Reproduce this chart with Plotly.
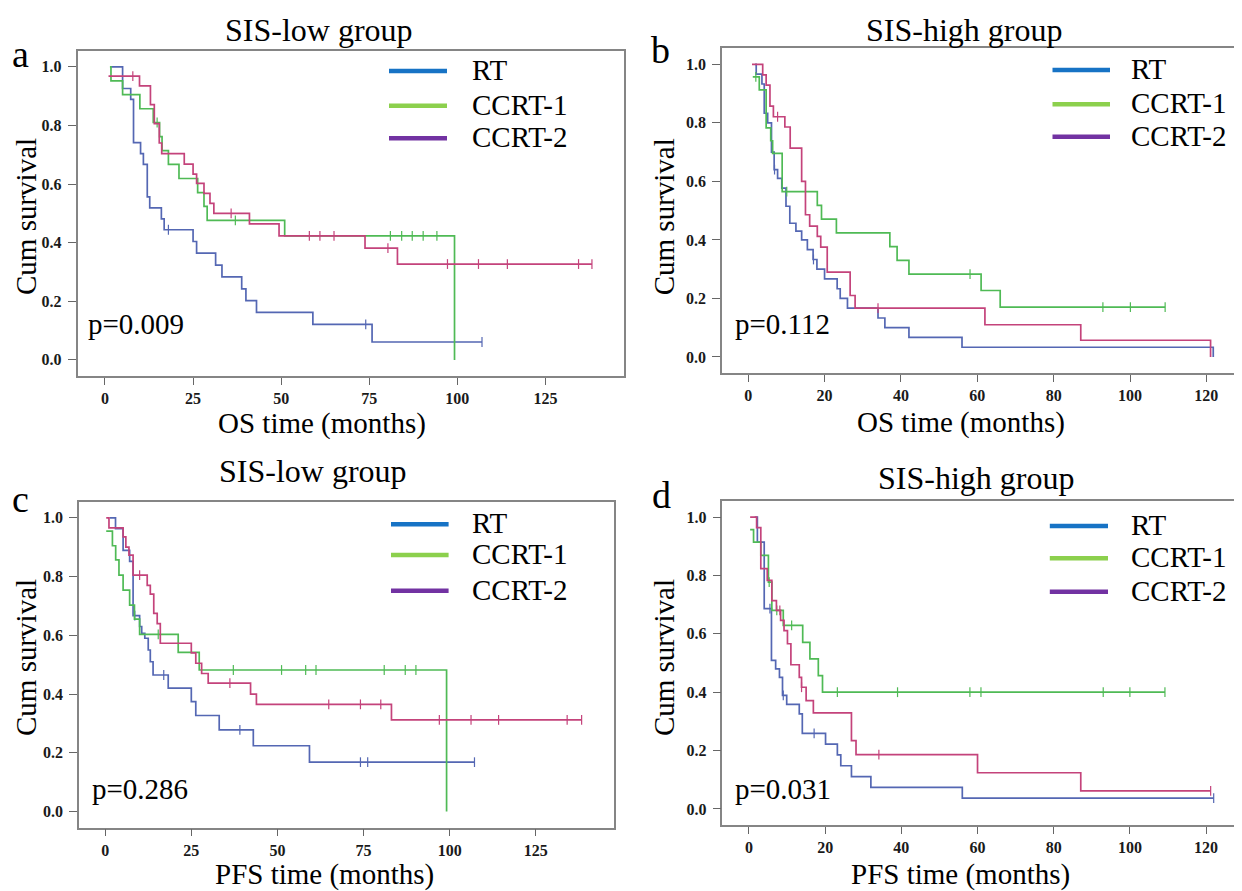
import numpy as np
import plotly.graph_objects as go

# ---------------- data (time in months, survival after each step) ----------------
# Panel a: OS, SIS-low
A_RT_T = [1.5, 5.0, 7.3, 8.1, 10.1, 10.9, 12.0, 12.7, 16.0, 16.8, 25.0, 26.0, 31.4, 33.2, 38.8, 40.0, 43.0, 59.0, 75.8, 107.0]
A_RT_S = [1.0, 0.926, 0.889, 0.741, 0.704, 0.667, 0.556, 0.519, 0.481, 0.444, 0.404, 0.364, 0.323, 0.283, 0.242, 0.202, 0.162, 0.121, 0.061, 0.061]
A_RT_C = [18.0, 74.0, 107.0]
A_C1_T = [1.4, 1.7, 5.0, 9.9, 13.7, 15.5, 16.2, 18.0, 21.0, 26.3, 28.1, 29.0, 51.0, 99.2]
A_C1_S = [1.0, 0.952, 0.905, 0.857, 0.810, 0.762, 0.714, 0.667, 0.619, 0.571, 0.524, 0.476, 0.423, 0.0]
A_C1_C = [14.8, 37.0, 81.0, 84.2, 87.2, 90.3, 94.2]
A_C2_T = [1.0, 9.8, 12.9, 14.0, 15.4, 16.1, 22.5, 25.0, 26.0, 28.1, 29.8, 30.9, 41.0, 49.4, 73.8, 83.0, 138.2]
A_C2_S = [0.968, 0.935, 0.871, 0.806, 0.740, 0.704, 0.668, 0.634, 0.602, 0.568, 0.534, 0.500, 0.464, 0.423, 0.381, 0.327, 0.327]
A_C2_C = [7.9, 35.8, 58.0, 61.0, 65.0, 80.3, 97.2, 106.0, 114.2, 134.4, 138.2]

# Panel b: OS, SIS-high
B_RT_T = [1.8, 2.1, 3.6, 4.2, 5.1, 6.1, 6.8, 7.7, 8.8, 9.9, 10.9, 12.5, 14.0, 15.5, 17.0, 18.0, 20.0, 23.3, 24.1, 26.0, 34.0, 35.8, 42.1, 56.0, 121.8]
B_RT_S = [1.0, 0.967, 0.933, 0.833, 0.800, 0.700, 0.640, 0.610, 0.577, 0.515, 0.457, 0.430, 0.400, 0.367, 0.333, 0.300, 0.267, 0.233, 0.200, 0.167, 0.133, 0.100, 0.067, 0.033, 0.0]
B_RT_C = [6.9, 17.1]
B_C1_T = [1.2, 2.9, 4.7, 5.9, 6.4, 8.9, 18.1, 19.2, 23.1, 37.1, 39.0, 42.1, 61.0, 66.0, 109.2]
B_C1_S = [0.957, 0.913, 0.783, 0.739, 0.696, 0.565, 0.518, 0.471, 0.424, 0.377, 0.330, 0.283, 0.227, 0.170, 0.170]
B_C1_C = [2.0, 10.1, 58.1, 92.9, 100.1, 109.2]
B_C2_T = [1.0, 3.8, 4.7, 5.7, 6.6, 9.6, 11.0, 14.0, 15.0, 16.1, 18.1, 19.0, 20.7, 26.7, 28.0, 62.0, 87.1, 121.1]
B_C2_S = [1.0, 0.964, 0.929, 0.857, 0.821, 0.786, 0.714, 0.600, 0.486, 0.447, 0.412, 0.375, 0.290, 0.210, 0.167, 0.110, 0.057, 0.0]
B_C2_C = [7.7, 34.0]

# Panel c: PFS, SIS-low
C_RT_T = [1.3, 3.0, 5.2, 7.1, 8.1, 10.0, 10.6, 11.5, 12.5, 13.1, 13.9, 18.3, 25.0, 26.3, 33.1, 43.0, 59.3, 107.2]
C_RT_S = [1.0, 0.963, 0.889, 0.852, 0.667, 0.630, 0.607, 0.590, 0.550, 0.510, 0.465, 0.420, 0.374, 0.327, 0.278, 0.224, 0.168, 0.168]
C_RT_C = [8.6, 17.0, 39.1, 74.1, 76.2, 107.2]
C_C1_T = [0.3, 2.1, 3.05, 4.0, 5.2, 7.1, 8.5, 10.0, 21.2, 27.3, 99.1]
C_C1_S = [0.955, 0.905, 0.857, 0.805, 0.754, 0.703, 0.655, 0.603, 0.542, 0.482, 0.0]
C_C1_C = [15.4, 37.2, 51.2, 58.2, 61.2, 81.0, 87.1, 90.2]
C_C2_T = [0.3, 1.1, 5.2, 6.0, 6.9, 8.1, 12.2, 13.1, 14.1, 15.1, 16.0, 25.0, 26.3, 28.0, 29.9, 42.2, 43.9, 83.1, 138.3]
C_C2_S = [1.0, 0.966, 0.935, 0.900, 0.873, 0.805, 0.770, 0.740, 0.675, 0.640, 0.573, 0.540, 0.505, 0.470, 0.437, 0.400, 0.365, 0.312, 0.312]
C_C2_C = [10.0, 36.2, 64.9, 74.1, 80.0, 97.0, 106.2, 114.2, 134.1, 138.3]

# Panel d: PFS, SIS-high
D_RT_T = [1.5, 2.2, 4.0, 5.9, 7.0, 8.0, 8.8, 9.9, 13.2, 14.0, 20.1, 23.2, 24.1, 26.9, 32.0, 56.0, 122.0]
D_RT_S = [1.0, 0.914, 0.686, 0.509, 0.480, 0.451, 0.389, 0.358, 0.326, 0.259, 0.222, 0.185, 0.148, 0.111, 0.074, 0.037, 0.037]
D_RT_C = [5.5, 9.0, 17.1, 122.0]
D_C1_T = [0.3, 1.2, 3.1, 5.1, 6.0, 9.0, 14.1, 16.0, 18.2, 19.3, 109.2]
D_C1_S = [0.957, 0.914, 0.869, 0.777, 0.680, 0.629, 0.571, 0.514, 0.457, 0.400, 0.400]
D_C1_C = [5.3, 7.3, 11.2, 23.2, 39.0, 58.0, 60.9, 93.0, 100.0, 109.2]
D_C2_T = [0.3, 2.0, 3.1, 4.8, 6.0, 7.2, 8.3, 9.2, 10.1, 11.0, 13.2, 13.8, 15.0, 16.9, 26.9, 28.1, 60.0, 87.1, 121.2]
D_C2_S = [1.0, 0.964, 0.823, 0.783, 0.714, 0.680, 0.646, 0.611, 0.566, 0.494, 0.451, 0.417, 0.371, 0.329, 0.234, 0.186, 0.124, 0.062, 0.062]
D_C2_C = [8.1, 13.8, 34.1, 121.2]

GROUPS = ["RT", "CCRT-1", "CCRT-2"]
TITLES = ["SIS-low group", "SIS-high group", "SIS-low group", "SIS-high group"]
LETTERS = ["a", "b", "c", "d"]
XTITLES = ["OS time (months)", "OS time (months)", "PFS time (months)", "PFS time (months)"]
PVALUES = ["p=0.009", "p=0.112", "p=0.286", "p=0.031"]
Y_TICKS = [0.0, 0.2, 0.4, 0.6, 0.8, 1.0]
X_TICKS_LOW = [0, 25, 50, 75, 100, 125]
X_TICKS_HIGH = [0, 20, 40, 60, 80, 100, 120]

CURVE_COLORS = ["#5467b3", "#4fba55", "#c4437b"]
LEGEND_COLORS = ["#1773c5", "#8cd04d", "#7232a2"]

# page is offset by the 8px body margin of the html page
OFF = 8
W, H = 1242 - OFF, 891 - OFF
FONT = "Liberation Serif"

panels = [
    [(A_RT_T, A_RT_S, A_RT_C), (A_C1_T, A_C1_S, A_C1_C), (A_C2_T, A_C2_S, A_C2_C)],
    [(B_RT_T, B_RT_S, B_RT_C), (B_C1_T, B_C1_S, B_C1_C), (B_C2_T, B_C2_S, B_C2_C)],
    [(C_RT_T, C_RT_S, C_RT_C), (C_C1_T, C_C1_S, C_C1_C), (C_C2_T, C_C2_S, C_C2_C)],
    [(D_RT_T, D_RT_S, D_RT_C), (D_C1_T, D_C1_S, D_C1_C), (D_C2_T, D_C2_S, D_C2_C)],
]

# layout geometry (page pixels)
frames = [  # left, right, top, bottom
    (77.5, 624, 50.7, 376),
    (722, 1241.5, 48.3, 373),
    (79, 614, 501.7, 827.7),
    (722.4, 1241.5, 501, 825),
]
xranges = [[-7.8, 147.3], [-6.86, 129.2], [-7.6, 147.7], [-6.98, 129.3]]
yrange = [-0.055, 1.055]

def px(x):
    return (x - OFF) / W

def py(y):
    return 1 - (y - OFF) / H

def surv_at(ts, ss, c):
    i = int(np.searchsorted(np.array(ts), c, side="right")) - 1
    return ss[max(i, 0)]

fig = go.Figure()
for p, series in enumerate(panels):
    xa = "x" if p == 0 else f"x{p+1}"
    ya = "y" if p == 0 else f"y{p+1}"
    for g, (ts, ss, cs) in enumerate(series):
        fig.add_trace(go.Scatter(x=ts, y=ss, mode="lines", line=dict(shape="hv", color=CURVE_COLORS[g], width=1.7),
                                 xaxis=xa, yaxis=ya, showlegend=False, hoverinfo="skip"))
        cy = [surv_at(ts, ss, c) for c in cs]
        fig.add_trace(go.Scatter(x=cs, y=cy, mode="markers",
                                 marker=dict(symbol="line-ns", size=7, color=CURVE_COLORS[g],
                                             line=dict(width=1.2, color=CURVE_COLORS[g])),
                                 xaxis=xa, yaxis=ya, showlegend=False, hoverinfo="skip"))

axis_common = dict(showline=True, mirror=True, linecolor="#858585", linewidth=1.5, showgrid=False, zeroline=False,
                   ticks="outside", tickcolor="#666666", tickwidth=1.3,
                   tickfont=dict(family=FONT, size=16, color="#1a1a1a"))
layout = dict(width=W, height=H, margin=dict(l=0, r=0, t=0, b=0), paper_bgcolor="white", plot_bgcolor="white",
              autosize=False)
for p in range(4):
    l, r, t, b = frames[p]
    xkey = "xaxis" if p == 0 else f"xaxis{p+1}"
    ykey = "yaxis" if p == 0 else f"yaxis{p+1}"
    yname = "y" if p == 0 else f"y{p+1}"
    xname = "x" if p == 0 else f"x{p+1}"
    xt = X_TICKS_LOW if p in (0, 2) else X_TICKS_HIGH
    layout[xkey] = dict(axis_common, domain=[px(l), px(r)], range=xranges[p], anchor=yname,
                        tickvals=xt, ticktext=[f"<b>{v}</b>" for v in xt], ticklen=7, ticklabelstandoff=0)
    layout[ykey] = dict(axis_common, domain=[py(b), py(t)], range=yrange, anchor=xname,
                        tickvals=Y_TICKS, ticktext=[f"<b>{v:.1f}</b>" for v in Y_TICKS], ticklen=8, ticklabelstandoff=3)
fig.update_layout(**layout)

# text annotations (page pixels of the visual centre)
title_pos = [(318.5, 30.5), (963.5, 30.5), (313, 470.5), (976.5, 477.5)]
xtitle_pos = [(322, 426), (960.5, 425.8), (324, 877.5), (960.5, 877.8)]
ytitle_pos = [(25.5, 216.5), (663.6, 216.7), (25.5, 657.5), (663.6, 657.5)]
p_pos = [(86, 327), (733, 327), (90, 792), (733, 792)]
letter_pos = [(20, 58), (660.7, 54), (20, 503), (661.7, 499)]
legend_line_x = [(389, 447), (1052.5, 1110), (391, 448.6), (1049.8, 1108)]
legend_text_x = [469.6, 1129, 469.6, 1129]
legend_y = [(71, 105.7, 138.3), (70, 104.3, 136.7), (524.3, 555, 590.7), (526, 558.3, 591.7)]

def text_y(y, size):
    # annotation box centre sits a bit above the visual centre of the glyphs
    return py(y - 0.1 * size)

ann = []
shapes = []
for p in range(4):
    ann.append(dict(text=TITLES[p], x=px(title_pos[p][0]), y=py(title_pos[p][1]), xref="paper", yref="paper",
                    showarrow=False, xanchor="center", yanchor="middle", borderpad=0,
                    font=dict(family=FONT, size=32, color="black")))
    ann.append(dict(text=XTITLES[p], x=px(xtitle_pos[p][0]), y=text_y(xtitle_pos[p][1], 29), xref="paper", yref="paper",
                    showarrow=False, xanchor="center", yanchor="middle", font=dict(family=FONT, size=29, color="black")))
    ann.append(dict(text="Cum survival", x=px(ytitle_pos[p][0]), y=py(ytitle_pos[p][1]), xref="paper", yref="paper",
                    showarrow=False, xanchor="center", yanchor="middle", textangle=-90, borderpad=0,
                    font=dict(family=FONT, size=29, color="black")))
    ann.append(dict(text=PVALUES[p], x=px(p_pos[p][0]), y=text_y(p_pos[p][1], 29), xref="paper", yref="paper",
                    showarrow=False, xanchor="left", yanchor="middle", font=dict(family=FONT, size=29, color="black")))
    ann.append(dict(text=LETTERS[p], x=px(letter_pos[p][0]), y=text_y(letter_pos[p][1], 38), xref="paper", yref="paper",
                    showarrow=False, xanchor="center", yanchor="middle", font=dict(family=FONT, size=38, color="black")))
    for g in range(3):
        yy = legend_y[p][g]
        shapes.append(dict(type="line", xref="paper", yref="paper", x0=px(legend_line_x[p][0]), x1=px(legend_line_x[p][1]),
                           y0=py(yy), y1=py(yy), line=dict(color=LEGEND_COLORS[g], width=4.5)))
        ann.append(dict(text=GROUPS[g], x=px(legend_text_x[p]), y=text_y(yy + 2, 29), xref="paper", yref="paper",
                        showarrow=False, xanchor="left", yanchor="middle", font=dict(family=FONT, size=29, color="black")))

fig.update_layout(annotations=ann, shapes=shapes)
fig.write_html("out.html")
